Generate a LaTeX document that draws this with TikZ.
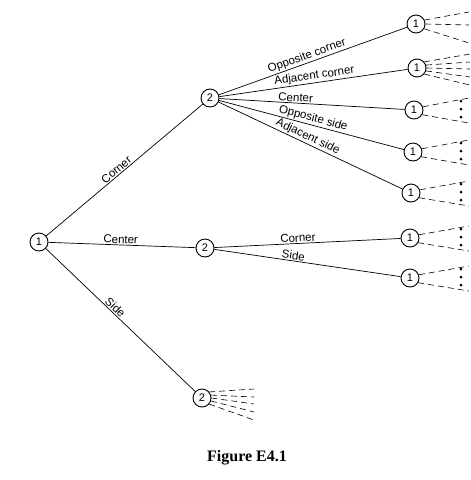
\documentclass[tikz,border=0pt]{standalone}
\usepackage{fontspec}
\setmainfont{Liberation Serif}
\newfontfamily\labfont{Liberation Sans}
\begin{document}
\begin{tikzpicture}[x=1pt,y=-1pt,
  st/.style={circle,draw,line width=0.9pt,minimum size=18pt,inner sep=0pt,font=\labfont\fontsize{11}{11}\selectfont},
  br/.style={line width=0.7pt},
  lb/.style={sloped,above,inner sep=1pt,font=\labfont\fontsize{11.5}{12}\selectfont},
  fan/.style={line width=0.6pt,dash pattern=on 6pt off 4pt},
  dotmark/.style={fill=black}]
\useasboundingbox (0,0) rectangle (471,480);

% nodes
\node[st] (r) at (39,242) {1};
\node[st] (c2) at (210,98) {2};
\node[st] (m2) at (205,248) {2};
\node[st] (s2) at (202,398) {2};
\node[st] (ca) at (416,24) {1};
\node[st] (cb) at (417,68) {1};
\node[st] (cc) at (414,110) {1};
\node[st] (cd) at (413,152) {1};
\node[st] (ce) at (411,193) {1};
\node[st] (ma) at (410,238) {1};
\node[st] (mb) at (410,278) {1};

% branches
\draw[br] (r) -- node[lb,pos=0.47] {Corner} (c2);
\draw[br] (r) -- node[lb,pos=0.49] {Center} (m2);
\draw[br] (r) -- node[lb,pos=0.44] {Side} (s2);
\draw[br] (c2) -- node[lb,pos=0.48] {Opposite corner} (ca);
\draw[br] (c2) -- node[lb,pos=0.51] {Adjacent corner} (cb);
\draw[br] (c2) -- node[lb,pos=0.41] {Center} (cc);
\draw[br] (c2) -- node[lb,pos=0.50] {Opposite side} (cd);
\draw[br] (c2) -- node[lb,pos=0.47] {Adjacent side} (ce);
\draw[br] (m2) -- node[lb,pos=0.45] {Corner} (ma);
\draw[br] (m2) -- node[lb,pos=0.42] {Side} (mb);

% fan at top node
\coordinate (ca1) at (469,12);
\coordinate (ca2) at (469,25);
\coordinate (ca3) at (469,43);
\draw[fan] (ca.25) -- (ca1);
\draw[fan] (ca.0) -- (ca2);
\draw[fan] (ca.-30) -- (ca3);

% five-line fans
\foreach \n/\x/\y in {cb/470/68, s2/254/403}{
  \coordinate (\n f1) at (\x,\y-14);
  \coordinate (\n f2) at (\x,\y-6);
  \coordinate (\n f3) at (\x,\y+1);
  \coordinate (\n f4) at (\x,\y+9);
  \coordinate (\n f5) at (\x,\y+17);
  \draw[fan] (\n.40) -- (\n f1);
  \draw[fan] (\n.18) -- (\n f2);
  \draw[fan] (\n.0) -- (\n f3);
  \draw[fan] (\n.-18) -- (\n f4);
  \draw[fan] (\n.-40) -- (\n f5);
}

% two-line fans with dots
\foreach \n/\y in {cc/110, cd/152, ce/193, ma/238, mb/278}{
  \coordinate (\n u) at (469,\y-12);
  \coordinate (\n d) at (469,\y+13);
  \draw[fan] (\n.20) -- (\n u);
  \draw[fan] (\n.-30) -- (\n d);
  \fill[dotmark] (461,\y-9) circle (1.5pt);
  \fill[dotmark] (461,\y-1) circle (1.5pt);
  \fill[dotmark] (461,\y+7) circle (1.5pt);
}

\node[font=\bfseries\fontsize{16}{16}\selectfont] (cap) at (247,458) {Figure E4.1};
\end{tikzpicture}
\end{document}
